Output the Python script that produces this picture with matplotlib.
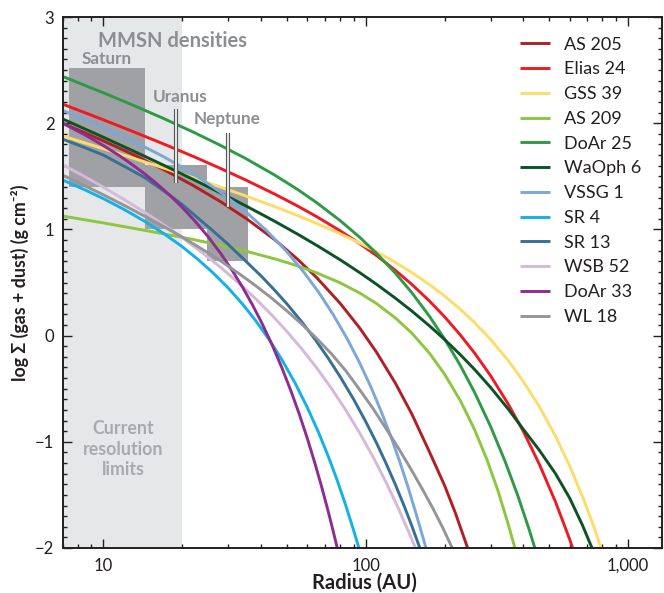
import matplotlib
matplotlib.use("Agg")
import matplotlib.pyplot as plt
import matplotlib.patheffects as pe
from matplotlib.ticker import MultipleLocator, FixedLocator, LogLocator, NullFormatter

plt.rcParams['font.family'] = ['Lato', 'DejaVu Sans']

# disks, in legend order
disk_names = ["AS 205", "Elias 24", "GSS 39", "AS 209", "DoAr 25", "WaOph 6",
              "VSSG 1", "SR 4", "SR 13", "WSB 52", "DoAr 33", "WL 18"]
disk_colors = ["#b01f24", "#ed1c24", "#fddc6a", "#8dc63f", "#2f9a46", "#0c5224",
               "#7ba7d9", "#14b1e7", "#386f94", "#d5b8da", "#8e2c91", "#939598"]

# radius (AU) and log surface density
as205_r = [7, 10, 13, 17, 22, 28, 35, 45, 55, 65, 80, 95, 110, 130, 150, 175, 200, 220, 245]
as205_s = [2.00, 1.834, 1.705, 1.563, 1.414, 1.261, 1.104, 0.904, 0.720, 0.548, 0.304,
           0.071, -0.155, -0.449, -0.737, -1.092, -1.41, -1.67, -2.0]

elias24_r = [7, 10, 13, 17, 22, 28, 35, 45, 55, 65, 80, 95, 110, 130, 150, 175, 200,
             230, 260, 300, 350, 400, 460, 530, 600, 616]
elias24_s = [2.18, 2.032, 1.921, 1.804, 1.688, 1.574, 1.464, 1.333, 1.221, 1.121, 0.987,
             0.866, 0.754, 0.614, 0.483, 0.327, 0.178, 0.005, -0.162, -0.379, -0.645,
             -0.904, -1.212, -1.566, -1.918, -2.0]

gss39_r = [7, 10, 13, 17, 22, 28, 35, 45, 55, 65, 80, 95, 110, 130, 150, 175, 200, 230,
           260, 300, 350, 400, 460, 530, 600, 680, 740, 790]
gss39_s = [1.88, 1.760, 1.671, 1.578, 1.487, 1.399, 1.314, 1.215, 1.131, 1.057, 0.959,
           0.871, 0.790, 0.689, 0.594, 0.482, 0.373, 0.247, 0.124, -0.037, -0.235,
           -0.433, -0.670, -0.947, -1.226, -1.549, -1.793, -2.0]

as209_r = [7, 10, 13, 17, 22, 28, 35, 45, 55, 65, 80, 95, 110, 130, 150, 175, 200, 230,
           260, 290, 320, 350, 371]
as209_s = [1.126, 1.061, 1.011, 0.958, 0.905, 0.850, 0.795, 0.723, 0.657, 0.592, 0.497,
           0.401, 0.302, 0.166, 0.024, -0.164, -0.362, -0.614, -0.882, -1.165, -1.463,
           -1.777, -2.0]

doar25_r = [7, 10, 13, 17, 22, 28, 35, 45, 55, 65, 80, 95, 110, 130, 150, 175, 200, 230,
            260, 300, 340, 380, 420, 442]
doar25_s = [2.44, 2.287, 2.169, 2.044, 1.917, 1.791, 1.666, 1.512, 1.377, 1.253, 1.083,
            0.926, 0.776, 0.587, 0.405, 0.184, -0.031, -0.283, -0.531, -0.858, -1.181,
            -1.502, -1.822, -2.0]

waoph6_r = [7, 10, 13, 17, 22, 28, 35, 45, 55, 65, 80, 95, 110, 130, 150, 175, 200, 230,
            260, 300, 350, 400, 460, 530, 600, 670, 730]
waoph6_s = [2.04, 1.868, 1.739, 1.604, 1.471, 1.343, 1.221, 1.077, 0.956, 0.851, 0.714,
            0.593, 0.484, 0.352, 0.232, 0.093, -0.036, -0.181, -0.317, -0.489, -0.692,
            -0.884, -1.08, -1.30, -1.53, -1.78, -2.0]

vssg1_r = [7, 10, 13, 17, 22, 28, 35, 42, 50, 58, 66, 75, 85, 95, 105, 115, 125, 135,
           145, 155, 170]
vssg1_s = [2.12, 1.960, 1.831, 1.684, 1.524, 1.350, 1.164, 0.987, 0.792, 0.601, 0.414,
           0.204, -0.027, -0.258, -0.489, -0.721, -0.953, -1.187, -1.422, -1.659, -2.0]

sr4_r = [7, 8.5, 10, 12, 14.5, 17, 20, 23, 26, 30, 34, 38, 43, 48, 54, 60, 66, 72, 78,
         84, 90, 94.3]
sr4_s = [1.465, 1.373, 1.290, 1.188, 1.071, 0.961, 0.837, 0.716, 0.599, 0.446, 0.295,
         0.145, -0.042, -0.228, -0.452, -0.678, -0.905, -1.134, -1.364, -1.597, -1.832, -2.0]

sr13_r = [7, 8.5, 10, 12, 14.5, 17, 20, 23, 26, 30, 35, 40, 45, 50, 57, 64, 72, 80, 90,
          100, 110, 120, 130, 140, 150, 161]
sr13_s = [1.85, 1.77, 1.70, 1.595, 1.483, 1.363, 1.234, 1.105, 0.993, 0.857, 0.699,
          0.561, 0.428, 0.302, 0.132, -0.031, -0.212, -0.387, -0.599, -0.807, -1.009,
          -1.209, -1.405, -1.598, -1.790, -2.0]

wsb52_r = [7, 8.5, 10, 12, 14.5, 17, 20, 24, 28, 33, 38, 44, 50, 57, 65, 74, 84, 95, 107,
           120, 133, 145, 155]
wsb52_s = [1.61, 1.497, 1.398, 1.282, 1.156, 1.043, 0.922, 0.775, 0.643, 0.491, 0.350,
           0.191, 0.042, -0.123, -0.302, -0.495, -0.700, -0.917, -1.146, -1.387, -1.621,
           -1.832, -2.0]

doar33_r = [7, 8.5, 10, 11.5, 13, 14.5, 16, 18, 20, 22.5, 25, 28, 31, 34, 37, 40, 44, 48,
            52, 56, 60, 64, 68, 72, 75, 78]
doar33_s = [2.0, 1.891, 1.790, 1.695, 1.604, 1.516, 1.430, 1.318, 1.207, 1.071, 0.936,
            0.775, 0.614, 0.453, 0.292, 0.131, -0.086, -0.305, -0.525, -0.746, -0.970,
            -1.196, -1.424, -1.653, -1.827, -2.0]

wl18_r = [7, 8.5, 10, 12, 14.5, 17, 20, 24, 28, 33, 38, 44, 50, 57, 65, 74, 84, 95, 107,
          120, 135, 150, 165, 180, 197, 214]
wl18_s = [1.51, 1.411, 1.326, 1.227, 1.120, 1.027, 0.927, 0.809, 0.703, 0.582, 0.472,
          0.350, 0.235, 0.110, -0.025, -0.170, -0.33, -0.51, -0.69, -0.88, -1.08, -1.27,
          -1.45, -1.62, -1.81, -2.0]

disk_r = [as205_r, elias24_r, gss39_r, as209_r, doar25_r, waoph6_r,
          vssg1_r, sr4_r, sr13_r, wsb52_r, doar33_r, wl18_r]
disk_s = [as205_s, elias24_s, gss39_s, as209_s, doar25_s, waoph6_s,
          vssg1_s, sr4_s, sr13_s, wsb52_s, doar33_s, wl18_s]

# MMSN boxes (Saturn, Uranus, Neptune)
mmsn_r_lo = [7.4, 14.4, 24.8]
mmsn_r_hi = [14.4, 24.8, 35.6]
mmsn_s_lo = [1.40, 1.00, 0.70]
mmsn_s_hi = [2.52, 1.61, 1.40]

# planet marker bars (Uranus, Neptune)
planet_r = [19.0, 30.0]
planet_s_lo = [1.44, 1.21]
planet_s_hi = [2.13, 1.91]

resolution_limit = 20.0

fig = plt.figure(figsize=(6.64, 5.93), dpi=100)
ax = fig.add_axes([0.0944, 0.0759, 0.9026, 0.8954])
ax.set_xscale('log')
ax.set_xlim(7, 1350)
ax.set_ylim(-2, 3)

ax.axvspan(7, resolution_limit, color='#e6e7e8', lw=0, zorder=0)
for lo, hi, slo, shi in zip(mmsn_r_lo, mmsn_r_hi, mmsn_s_lo, mmsn_s_hi):
    ax.fill_between([lo, hi], slo, shi, color='#a0a1a4', lw=0, zorder=1)

for name, color, r, s in zip(disk_names, disk_colors, disk_r, disk_s):
    ax.plot(r, s, color=color, lw=2.1, label=name, zorder=2,
            solid_capstyle='butt', solid_joinstyle='round')

for r, lo, hi in zip(planet_r, planet_s_lo, planet_s_hi):
    ax.plot([r, r], [lo, hi], color='white', lw=1.2, zorder=4,
            solid_capstyle='butt',
            path_effects=[pe.Stroke(linewidth=3.0, foreground='#58595b'), pe.Normal()])

txt_gray = '#8c8e91'
ax.text(18.3, 2.775, "MMSN densities", color=txt_gray, fontsize=14.5,
        fontweight='bold', ha='center', va='center', zorder=5)
ax.text(10.3, 2.605, "Saturn", color=txt_gray, fontsize=12.3,
        fontweight='bold', ha='center', va='center', zorder=5)
ax.text(19.6, 2.247, "Uranus", color=txt_gray, fontsize=12.3,
        fontweight='bold', ha='center', va='center', zorder=5)
ax.text(29.7, 2.04, "Neptune", color=txt_gray, fontsize=12.3,
        fontweight='bold', ha='center', va='center', zorder=5)
ax.text(11.9, -1.07, "Current\nresolution\nlimits", color='#a7a9ac',
        fontsize=12.8, fontweight='bold', ha='center', va='center',
        linespacing=1.25, zorder=5)

# ticks
ax.xaxis.set_major_locator(FixedLocator([10, 100, 1000]))
ax.set_xticklabels(["10", "100", "1,000"])
ax.xaxis.set_minor_locator(LogLocator(base=10, subs=range(2, 10)))
ax.xaxis.set_minor_formatter(NullFormatter())
ax.set_yticks([-2, -1, 0, 1, 2, 3])
ax.set_yticklabels(["\u22122", "\u22121", "0", "1", "2", "3"])
ax.yaxis.set_minor_locator(MultipleLocator(0.1))
ax.tick_params(which='both', direction='in', top=True, right=True,
               labelsize=12, width=1.0, colors='#231f20')
ax.tick_params(which='major', length=6.5)
ax.tick_params(which='minor', length=3.2)
ax.tick_params(axis='x', pad=7)
ax.tick_params(axis='y', pad=6)
for sp in ax.spines.values():
    sp.set_linewidth(1.4)
    sp.set_color('#231f20')

ax.set_xlabel("Radius (AU)", fontsize=14.5, fontweight='bold', color='#231f20')
ax.xaxis.set_label_coords(0.504, -0.066)
ax.xaxis.label.set_va('center')
ax.set_ylabel("log \u03a3 (gas + dust) (g cm\u207b\u00b2)", fontsize=12.8,
              fontweight='bold', color='#231f20')
ax.yaxis.set_label_coords(-0.071, 0.5)
ax.yaxis.label.set_va('center')

leg = ax.legend(loc='upper left', bbox_to_anchor=(0.763, 0.963), frameon=False,
                fontsize=13, handlelength=1.65, handletextpad=0.8,
                labelspacing=0.485, borderaxespad=0, borderpad=0)
for t in leg.get_texts():
    t.set_color('#231f20')

fig.savefig("out.png", dpi=100)
